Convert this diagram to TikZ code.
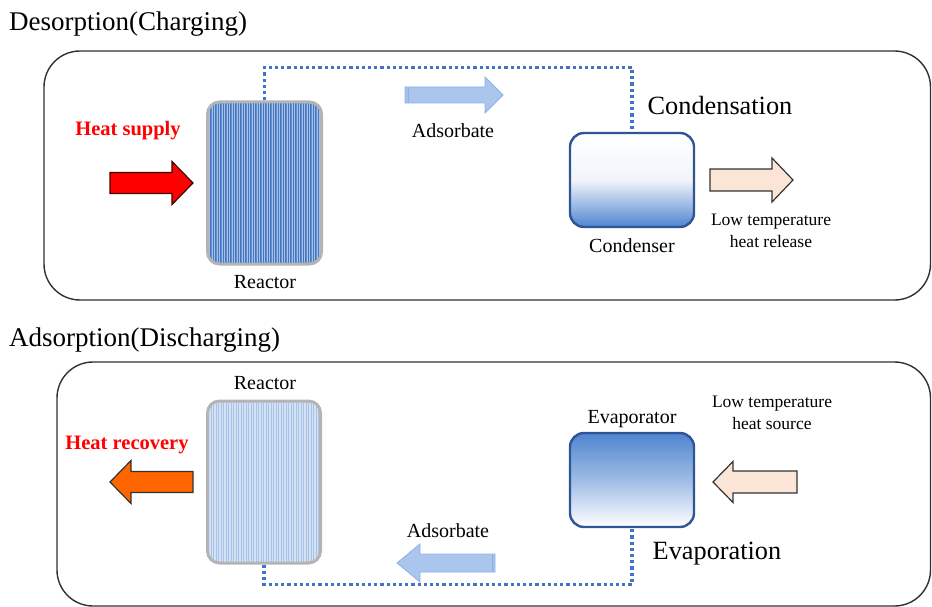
\documentclass[tikz,border=0pt]{standalone}
\usepackage{fontspec}
\setmainfont{Liberation Serif}
\definecolor{dotblue}{HTML}{4472C4}
\definecolor{pipeblue}{HTML}{AAC6EC}
\definecolor{pipeedge}{HTML}{8EB0E2}
\definecolor{peach}{HTML}{FBE5D6}
\definecolor{heatred}{HTML}{FF0000}
\definecolor{heatorange}{HTML}{FF6600}
\definecolor{vesselblue}{HTML}{4F85CF}
\definecolor{vesseledge}{HTML}{2F5597}
\definecolor{reactorgray}{HTML}{B4B4B4}
\definecolor{rdark}{HTML}{5E8FD3}
\definecolor{rdarkline}{HTML}{4676C0}
\definecolor{rlight}{HTML}{D5E2F4}
\definecolor{rlightline}{HTML}{A7C2E8}
\definecolor{panel}{HTML}{303030}
% block arrow: [style]{tail x}{tip x}{y}{shaft half}{head half}{head start x}
\newcommand{\blockarr}[7][]{%
  \draw[#1] (#2,{#4-#5}) -- (#7,{#4-#5}) -- (#7,{#4-#6}) -- (#3,#4)
    -- (#7,{#4+#6}) -- (#7,{#4+#5}) -- (#2,{#4+#5}) -- cycle;}
\begin{document}
\begin{tikzpicture}[x=1pt,y=-1pt,
  title/.style={font=\fontsize{27}{31}\selectfont, anchor=west, inner sep=0pt},
  big/.style={font=\fontsize{26.3}{30}\selectfont, inner sep=0pt},
  lbl/.style={font=\fontsize{20}{24}\selectfont, inner sep=0pt},
  small/.style={font=\fontsize{17.5}{22}\selectfont, inner sep=0pt, align=center},
  heat/.style={font=\bfseries\fontsize{20.5}{24}\selectfont, text=heatred, inner sep=0pt},
  panelbox/.style={draw=panel, line width=1.4pt, rounded corners=36pt},
  reactorbox/.style={draw=reactorgray, line width=3pt, rounded corners=12pt,
    minimum width=114pt, minimum height=162pt, inner sep=0pt},
  vessel/.style={draw=vesseledge, line width=2.4pt, rounded corners=14pt,
    minimum width=124pt, minimum height=94pt, inner sep=0pt},
  dotline/.style={draw=dotblue, line width=3.2pt, dash pattern=on 3.2pt off 3pt},
  pipearrow/.style={fill=pipeblue, draw=pipeedge, line width=0.8pt},
  peacharrow/.style={fill=peach, draw=black!80, line width=1.2pt},
]
\useasboundingbox (0,0) rectangle (932,607);

% ---------- titles ----------
\node[title] (t1) at (9,24) {Desorption(Charging)};
\node[title] (t2) at (9,340) {Adsorption(Discharging)};

% ---------- panels ----------
\begin{scope}
\clip (0,0) rectangle (932,607);
\path[panelbox] (44,51) rectangle (930.5,300);
\path[panelbox] (57,362) rectangle (930.5,606);
\end{scope}

% ---------- top: reactor (dark) ----------
\begin{scope}
\clip[rounded corners=12pt] (207.5,102) rectangle (321.5,264);
\fill[rdark] (207,100) rectangle (322,266);
\foreach \i in {208,210.5,...,322} \draw[rdarkline, line width=0.6pt] (\i,100) -- (\i,266);
\foreach \i in {209.2,211.7,...,322} \draw[white!45!rdark, line width=0.35pt] (\i,100) -- (\i,266);
\end{scope}
\node[reactorbox] (r1) at (264.5,183) {};
\node[lbl] (r1lbl) at (265,282) {Reactor};

% condenser
\shade[rounded corners=14pt, top color=white, bottom color=vesselblue, middle color=white!92!vesselblue]
  (570,133) rectangle (694,227);
\node[vessel] (cond) at (632,180) {};
\node[lbl] (condlbl) at (632,246) {Condenser};
\node[big] (condens) at (720,106) {Condensation};

% dotted pipe top
\draw[dotline] (r1.north) -- ++(0,-33) -| (cond.north);

% adsorbate arrow top
\blockarr[pipearrow]{405}{503}{95}{8}{18}{485}
\draw[pipeedge, line width=0.8pt] (408,87) -- (408,103);
\fill[pipeedge!80!white] (405.5,87.5) rectangle (407.5,102.5);
\node[lbl] (ads1) at (453,131) {Adsorbate};

% heat supply
\node[heat] (hs) at (128,131) {Heat supply};
\blockarr[fill=heatred, draw=black!75!red, line width=1.2pt]{110}{193}{183}{10.5}{21.5}{172}

% low temperature heat release
\blockarr[peacharrow]{710}{793}{180}{11}{22}{772}
\node[small] (ltr) at (771,231) {Low temperature\\heat release};

% ---------- bottom: reactor (light) ----------
\begin{scope}
\clip[rounded corners=12pt] (207.5,401) rectangle (320.5,563);
\fill[rlight] (207,399) rectangle (322,565);
\foreach \i in {208.5,211,...,322} \draw[rlightline, line width=0.6pt] (\i,399) -- (\i,565);
\end{scope}
\node[reactorbox, minimum width=113pt] (r2) at (264,482) {};
\node[lbl] (r2lbl) at (265,383) {Reactor};

% heat recovery
\node[heat] (hr) at (127,445) {Heat recovery};
\blockarr[fill=heatorange, draw=black!80, line width=1.2pt]{193}{110}{482}{10.5}{21.5}{131}

% evaporator
\shade[rounded corners=14pt, top color=vesselblue, bottom color=white, middle color=vesselblue!55!white]
  (570,433) rectangle (694,527);
\node[vessel] (evap) at (632,480) {};
\node[lbl] (evaplbl) at (632,419) {Evaporator};
\node[big] (evapn) at (717,554) {Evaporation};

% dotted pipe bottom
\draw[dotline] (r2.south) -- ++(0,20) -| (evap.south);

% adsorbate arrow bottom
\blockarr[pipearrow]{495}{397}{563}{9}{19}{420}
\draw[pipeedge, line width=0.8pt] (492,555) -- (492,572);
\fill[pipeedge!80!white] (492.5,554.5) rectangle (494.5,571.5);
\node[lbl] (ads2) at (448,531) {Adsorbate};

% low temperature heat source
\blockarr[peacharrow]{797}{713}{482}{11}{20.5}{733}
\node[small] (lts) at (772,413) {Low temperature\\heat source};
\end{tikzpicture}
\end{document}
